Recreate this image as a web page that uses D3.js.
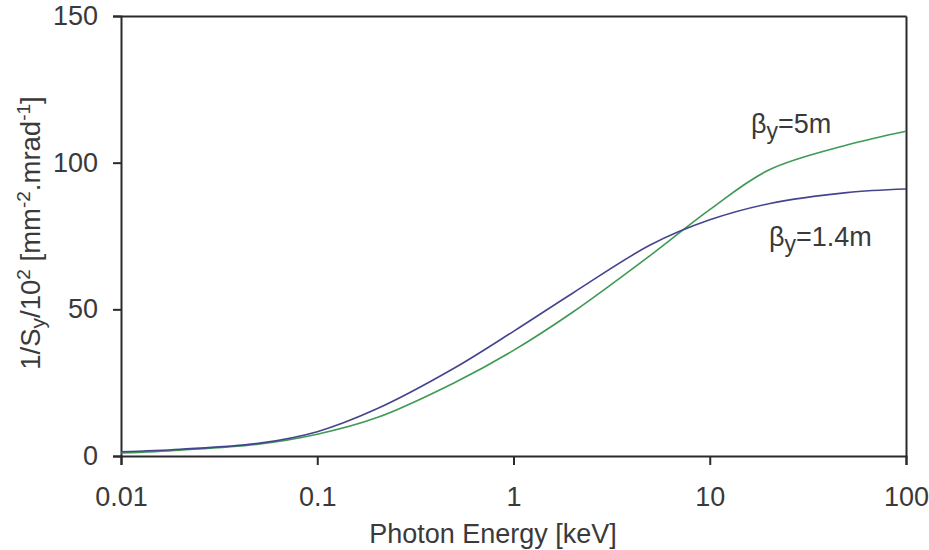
<!DOCTYPE html>
<html>
<head>
<meta charset="utf-8">
<script src="https://cdn.jsdelivr.net/npm/d3@7"></script>
<style>
  html, body { margin: 0; padding: 0; background: #fff; }
  svg { display: block; }
  text { font-family: "Liberation Sans", Arial, sans-serif; fill: #3a3a3a; }
</style>
</head>
<body>
<svg id="chart" width="929" height="550"></svg>
<script>
// ---- data ----
const energies = [0.01, 0.02, 0.05, 0.1, 0.2, 0.5, 1, 2, 5, 10, 20, 50, 100];
const beta14 = [1.4, 2.3, 4.3, 8.3, 16, 30, 42.5, 55.5, 72, 80.5, 86, 89.8, 91];
const beta5  = [1.0, 2.0, 4.0, 7.4, 13, 25, 36, 49, 68.5, 84, 97.5, 106, 110.7];
const xTicks = [0.01, 0.1, 1, 10, 100];
const xTickLabels = ["0.01", "0.1", "1", "10", "100"];
const yTicks = [0, 50, 100, 150];
const seriesNames = ["β_y=1.4m", "β_y=5m"];

// ---- layout ----
const svg = d3.select("#chart");
const L = 121, R = 906, T = 16, B = 456;
const x = d3.scaleLog().domain([0.01, 100]).range([L, R]);
const y = d3.scaleLinear().domain([0, 150]).range([B, T]);

const frame = "#2a2a2a";

// axes
const gx = svg.append("g").attr("transform", `translate(0,${B})`)
  .call(d3.axisBottom(x).tickValues(xTicks).tickFormat((d, i) => xTickLabels[i]).tickSizeOuter(0).tickSize(9).tickPadding(22));
const gy = svg.append("g").attr("transform", `translate(${L},0)`)
  .call(d3.axisLeft(y).tickValues(yTicks).tickSizeOuter(0).tickSize(8).tickPadding(15));
[gx, gy].forEach(g => {
  g.select(".domain").attr("stroke", frame).attr("stroke-width", 2);
  g.selectAll(".tick line").attr("stroke", frame).attr("stroke-width", 2);
  g.selectAll(".tick text").attr("font-size", 27).attr("fill", "#3a3a3a")
    .attr("font-family", '"Liberation Sans", Arial, sans-serif');
});
gx.selectAll(".tick text").attr("dy", "0.71em");
// top and right frame
svg.append("g").attr("transform", `translate(0,${T})`)
  .call(d3.axisTop(x).tickValues([]).tickSizeOuter(0))
  .select(".domain").attr("stroke", frame).attr("stroke-width", 2);
svg.append("g").attr("transform", `translate(${R},0)`)
  .call(d3.axisRight(y).tickValues([]).tickSizeOuter(0))
  .select(".domain").attr("stroke", frame).attr("stroke-width", 2);

// lines
const line = vals => d3.line()
  .x((d, i) => x(energies[i]))
  .y(d => y(d))
  .curve(d3.curveCatmullRom.alpha(0.5))(vals);

svg.append("path").attr("d", line(beta5))
  .attr("fill", "none").attr("stroke", "#3f9a55").attr("stroke-width", 1.6);
svg.append("path").attr("d", line(beta14))
  .attr("fill", "none").attr("stroke", "#45458f").attr("stroke-width", 1.6);

// series labels
function betaLabel(px, py, name) {
  const parts = name.split("_");
  const sub = parts[1].split("=");
  const t = svg.append("text").attr("x", px).attr("y", py).attr("font-size", 27);
  t.append("tspan").text(parts[0]);
  t.append("tspan").attr("font-size", 23).attr("dy", 6).text(sub[0]);
  t.append("tspan").attr("dy", -6).text("=" + sub[1]);
}
betaLabel(751, 133, seriesNames[1]);
betaLabel(769, 246, seriesNames[0]);

// axis titles
svg.append("text").attr("x", 493).attr("y", 543).attr("text-anchor", "middle")
  .attr("font-size", 27).text("Photon Energy [keV]");

const yt = svg.append("text").attr("transform", `translate(40,233) rotate(-90)`)
  .attr("text-anchor", "middle").attr("font-size", 27.5);
yt.append("tspan").text("1/S");
yt.append("tspan").attr("font-size", 21).attr("dy", 5).text("y");
yt.append("tspan").attr("dy", -5).text("/10");
yt.append("tspan").attr("font-size", 19).attr("dy", -10).text("2");
yt.append("tspan").attr("dy", 10).text(" [mm");
yt.append("tspan").attr("font-size", 19).attr("dy", -10).text("-2");
yt.append("tspan").attr("dy", 10).text(".mrad");
yt.append("tspan").attr("font-size", 19).attr("dy", -10).text("-1");
yt.append("tspan").attr("dy", 10).text("]");
</script>
</body>
</html>
